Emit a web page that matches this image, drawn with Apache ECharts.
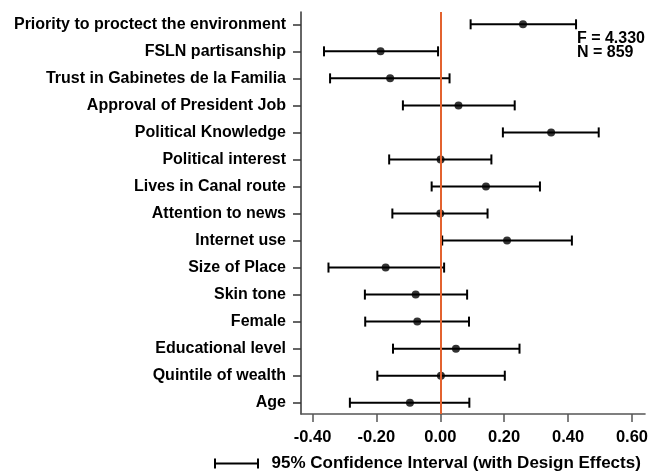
<!DOCTYPE html>
<html>
<head>
<meta charset="utf-8">
<script src="https://cdn.jsdelivr.net/npm/echarts@6/dist/echarts.min.js"></script>
<style>
  html, body { margin: 0; padding: 0; background: #fff; }
  #chart { width: 651px; height: 472px; }
</style>
</head>
<body>
<div id="chart"></div>
<script>
// Predictors, listed top to bottom
const categories = [
  'Priority to proctect the environment',
  'FSLN partisanship',
  'Trust in Gabinetes de la Familia',
  'Approval of President Job',
  'Political Knowledge',
  'Political interest',
  'Lives in Canal route',
  'Attention to news',
  'Internet use',
  'Size of Place',
  'Skin tone',
  'Female',
  'Educational level',
  'Quintile of wealth',
  'Age'
];
// Standardized coefficients with 95% confidence bounds
const estimates = [0.259, -0.187, -0.157, 0.057, 0.347, 0.001, 0.143, 0.000, 0.209, -0.171, -0.077, -0.072, 0.049, 0.002, -0.095];
const lower     = [0.095, -0.364, -0.345, -0.117, 0.196, -0.160, -0.027, -0.150, 0.006, -0.350, -0.236, -0.235, -0.148, -0.197, -0.283];
const upper     = [0.425, -0.007, 0.029, 0.233, 0.496, 0.160, 0.312, 0.148, 0.412, 0.012, 0.084, 0.090, 0.248, 0.202, 0.091];
const xTicks = [-0.4, -0.2, 0, 0.2, 0.4, 0.6];
const statF = '4.330';
const statN = '859';
const ciLabel = '95% Confidence Interval (with Design Effects)';

const rowPos = categories.map((_, i) => i + 1);
const ciData = categories.map((_, i) => [lower[i], upper[i], rowPos[i]]);
const pointData = categories.map((_, i) => [estimates[i], rowPos[i]]);

const FONT = '"Liberation Sans", Arial, Helvetica, sans-serif';

const chart = echarts.init(document.getElementById('chart'), null, { renderer: 'canvas' });

chart.setOption({
  animation: false,
  backgroundColor: '#fff',
  grid: { left: 301, right: 0, top: 12, bottom: 58 },
  xAxis: {
    type: 'value',
    min: -0.436,
    max: 0.641,
    splitLine: { show: false },
    axisLine: { show: true, onZero: false, lineStyle: { color: '#555', width: 1.5 } },
    axisTick: { show: true, length: 8, customValues: xTicks, lineStyle: { color: '#555', width: 1.5 } },
    axisLabel: {
      customValues: xTicks,
      formatter: v => v.toFixed(2),
      color: '#000', fontFamily: FONT, fontWeight: 'bold', fontSize: 16.5, margin: 15
    }
  },
  yAxis: {
    type: 'value',
    inverse: true,
    min: 0.545,
    max: 15.418,
    splitLine: { show: false },
    axisLine: { show: true, onZero: false, lineStyle: { color: '#333', width: 1.5 } },
    axisTick: { show: true, length: 8, customValues: rowPos, lineStyle: { color: '#333', width: 1.5 } },
    axisLabel: {
      customValues: rowPos,
      formatter: v => categories[Math.round(v) - 1] || '',
      color: '#000', fontFamily: FONT, fontWeight: 'bold', fontSize: 16, margin: 15
    }
  },
  legend: {
    left: 214,
    top: 455,
    padding: 0,
    data: [{
      name: ciLabel,
      icon: 'path://M0,0h2v10h-2z M0,4h45v2h-45z M43,0h2v10h-2z'
    }],
    itemWidth: 46,
    itemHeight: 10,
    selectedMode: false,
    textStyle: { color: '#000', fontFamily: FONT, fontWeight: 'bold', fontSize: 17, padding: [0, 0, 0, 7] }
  },
  graphic: [{
    type: 'text',
    right: 6,
    top: 31,
    style: {
      text: 'F = ' + statF + '\nN = ' + statN,
      fill: '#000',
      font: 'bold 16px ' + FONT,
      align: 'right',
      lineHeight: 14
    }
  }],
  series: [
    {
      name: ciLabel,
      type: 'custom',
      itemStyle: { color: '#000' },
      encode: { x: [0, 1], y: 2 },
      data: ciData,
      z: 3,
      renderItem: (params, api) => {
        const y = api.value(2);
        const a = api.coord([api.value(0), y]);
        const b = api.coord([api.value(1), y]);
        const cap = 5;
        const style = { stroke: '#000', lineWidth: 2 };
        return {
          type: 'group',
          children: [
            { type: 'line', shape: { x1: a[0], y1: a[1], x2: b[0], y2: b[1] }, style },
            { type: 'line', shape: { x1: a[0], y1: a[1] - cap, x2: a[0], y2: a[1] + cap }, style },
            { type: 'line', shape: { x1: b[0], y1: b[1] - cap, x2: b[0], y2: b[1] + cap }, style }
          ]
        };
      }
    },
    {
      name: 'Estimate',
      type: 'scatter',
      data: pointData,
      symbol: 'circle',
      symbolSize: 8,
      itemStyle: { color: '#000' },
      z: 4,
      markLine: {
        silent: true,
        symbol: 'none',
        label: { show: false },
        lineStyle: { color: '#e3622f', width: 2, type: 'solid' },
        data: [{ xAxis: 0 }]
      }
    }
  ]
});
</script>
</body>
</html>
